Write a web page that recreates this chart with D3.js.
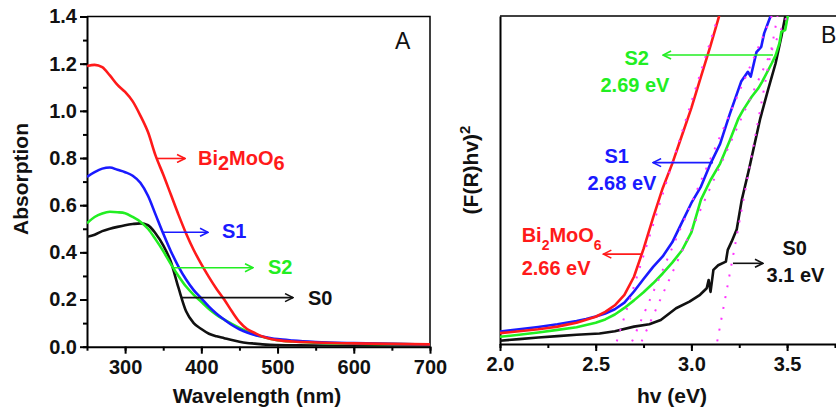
<!DOCTYPE html>
<html lang="en">
<head>
<meta charset="UTF-8">
<title>Absorption</title>
<style>
  body { margin: 0; background: #fff; }
  svg { display: block; font-family: "Liberation Sans", Arial, sans-serif; }
  .axis path, .axis line { stroke: #000; stroke-width: 2px; fill: none; }
  .axis text { font-size: 20px; font-weight: bold; fill: #111; }
  .frame { stroke: #000; stroke-width: 1.5px; fill: none; }
  .curve { fill: none; stroke-width: 2.6px; stroke-linejoin: round; }
  .tangent { fill: none; stroke: #ff33ff; stroke-width: 2px; stroke-dasharray: 2,9; }
  .title { font-size: 21px; font-weight: bold; fill: #111; }
  .note { font-size: 20px; font-weight: bold; }
</style>
</head>
<body>
<script src="https://d3js.org/d3.v7.min.js"></script>
<script>

// ---- panel A: absorption spectra ----
var wavelength = [250, 260, 270, 280, 290, 300, 310, 320, 330, 340, 350, 360, 370, 380, 390, 400,
                  410, 420, 430, 440, 450, 460, 470, 480, 490, 500, 520, 550, 600, 650, 700];
var absBi = [1.19, 1.195, 1.185, 1.15, 1.11, 1.08, 1.04, 0.98, 0.91, 0.81, 0.73, 0.645, 0.56, 0.48, 0.41, 0.35,
             0.295, 0.245, 0.2, 0.15, 0.105, 0.075, 0.058, 0.043, 0.034, 0.028, 0.022, 0.018, 0.014, 0.012, 0.01];
var absS1 = [0.72, 0.74, 0.755, 0.76, 0.75, 0.74, 0.725, 0.695, 0.64, 0.56, 0.48, 0.405, 0.34, 0.285, 0.24, 0.205,
             0.17, 0.14, 0.115, 0.092, 0.074, 0.06, 0.05, 0.043, 0.037, 0.032, 0.026, 0.02, 0.015, 0.012, 0.01];
var absS2 = [0.523, 0.55, 0.565, 0.572, 0.57, 0.566, 0.55, 0.53, 0.5, 0.455, 0.405, 0.35, 0.3, 0.255, 0.22, 0.19,
             0.16, 0.135, 0.115, 0.097, 0.08, 0.065, 0.052, 0.042, 0.034, 0.028, 0.022, 0.017, 0.013, 0.011, 0.01];
var absS0 = [0.466, 0.475, 0.49, 0.5, 0.508, 0.515, 0.52, 0.523, 0.515, 0.48, 0.43, 0.36, 0.25, 0.15, 0.1, 0.075,
             0.055, 0.044, 0.036, 0.028, 0.021, 0.016, 0.013, 0.01, 0.008, 0.007, 0.006, 0.005, 0.004, 0.004, 0.004];
var wlTicks = [300, 400, 500, 600, 700];
var absTicks = [0, 0.2, 0.4, 0.6, 0.8, 1.0, 1.2, 1.4];

// ---- panel B: Kubelka-Munk plots (arbitrary units, 0-100) ----
var evBi = [2.0, 2.05, 2.1, 2.15, 2.2, 2.25, 2.3, 2.35, 2.4, 2.45, 2.5, 2.55, 2.6, 2.65, 2.7, 2.75,
            2.8, 2.85, 2.9, 2.95, 3.0, 3.05, 3.1, 3.15];
var kmBi = [3.3, 3.6, 3.9, 4.2, 4.5, 4.9, 5.3, 5.9, 6.5, 7.4, 8.3, 9.8, 11.8, 15, 20.5, 29,
            38.5, 47.5, 55, 63.5, 72, 81.5, 91, 101];
var evS1 = [2.0, 2.1, 2.2, 2.3, 2.4, 2.45, 2.5, 2.55, 2.6, 2.65, 2.7, 2.75, 2.8, 2.85, 2.9, 2.95,
            3.0, 3.05, 3.1, 3.15, 3.2, 3.26, 3.295, 3.31, 3.34, 3.365, 3.38, 3.41, 3.43];
var kmS1 = [3.8, 4.5, 5.2, 6.0, 7.0, 7.6, 8.4, 9.3, 10.6, 12.6, 16, 19.8, 23.5, 26.7, 31, 37,
            43, 48, 55, 61, 70, 80, 83, 81.5, 89, 90.6, 94.7, 99.4, 102];
var evS2 = [2.0, 2.1, 2.2, 2.3, 2.4, 2.5, 2.55, 2.6, 2.65, 2.7, 2.75, 2.8, 2.85, 2.9, 2.95, 3.0,
            3.05, 3.1, 3.15, 3.2, 3.246, 3.27, 3.315, 3.35, 3.37, 3.42, 3.44, 3.46, 3.47, 3.49, 3.51];
var kmS2 = [2.2, 2.8, 3.5, 4.3, 5.1, 6.5, 7.5, 9.0, 11, 13.3, 15.8, 18.5, 21.5, 24.8, 28.5, 34,
            44, 50, 55, 62, 68.8, 71.3, 75.4, 78, 80, 85.6, 88, 91.7, 95.2, 95.7, 102];
var evS0 = [2.0, 2.1, 2.2, 2.3, 2.4, 2.52, 2.6, 2.7, 2.78, 2.84, 2.92, 2.99, 3.045, 3.08, 3.09, 3.1,
            3.115, 3.14, 3.18, 3.19, 3.21, 3.237, 3.263, 3.3, 3.36, 3.4, 3.44, 3.47, 3.49, 3.5];
var kmS0 = [1.0, 1.5, 2.0, 2.4, 2.8, 3.2, 3.9, 5.3, 6.0, 7.3, 10.9, 12.9, 15, 17, 19.5, 15.9,
            22.6, 24, 25.1, 28.7, 31.2, 35, 43.9, 53, 68.8, 77.4, 85.6, 93.7, 99.8, 102];
// tangent (onset) lines: energy at bottom and at top of the plot
var tangentBottom = [2.61, 2.69, 2.74, 3.135];
var tangentTop = [3.14, 3.42, 3.50, 3.45];
var evTicks = [2.0, 2.5, 3.0, 3.5];

var red = "#ff1a1a", blue = "#1a1aff", green = "#22ee22", black = "#111";

var svg = d3.select("body").append("svg")
    .attr("width", 836)
    .attr("height", 416);

// ================= panel A =================
var xA = d3.scaleLinear().domain([250, 700]).range([87, 430]);
var yA = d3.scaleLinear().domain([0, 1.4]).range([346.7, 16.5]);

svg.append("clipPath").attr("id", "clipA").append("rect")
    .attr("x", 87).attr("y", 16.5).attr("width", 343).attr("height", 330.2);

var gA = svg.append("g");

gA.append("path").attr("class", "frame")
    .attr("d", "M" + xA(250) + "," + yA(1.4) + "H" + xA(700) + "V" + yA(0));

gA.append("g").attr("class", "axis")
    .attr("transform", "translate(0," + yA(0) + ")")
    .call(d3.axisBottom(xA).tickValues(d3.range(250, 701, 50)).tickSize(4).tickFormat(""))
    .call(function(g) { g.select(".domain").remove(); });
gA.append("g").attr("class", "axis")
    .attr("transform", "translate(0," + yA(0) + ")")
    .call(d3.axisBottom(xA).tickValues(wlTicks).tickSize(7).tickPadding(6).tickSizeOuter(0).tickFormat(d3.format("d")));

gA.append("g").attr("class", "axis")
    .attr("transform", "translate(" + xA(250) + ",0)")
    .call(d3.axisLeft(yA).tickValues(d3.range(0, 1.41, 0.1)).tickSize(4).tickFormat(""))
    .call(function(g) { g.select(".domain").remove(); });
gA.append("g").attr("class", "axis")
    .attr("transform", "translate(" + xA(250) + ",0)")
    .call(d3.axisLeft(yA).tickValues(absTicks).tickSize(7).tickPadding(3).tickSizeOuter(0).tickFormat(d3.format(".1f")));

var lineA = d3.line()
    .x(function(d) { return xA(d[0]); })
    .y(function(d) { return yA(d[1]); })
    .curve(d3.curveMonotoneX);

var seriesA = [[absS0, black], [absS2, green], [absS1, blue], [absBi, red]];
seriesA.forEach(function(s) {
    gA.append("path").attr("class", "curve")
        .attr("clip-path", "url(#clipA)")
        .attr("stroke", s[1])
        .attr("d", lineA(d3.zip(wavelength, s[0])));
});

svg.append("defs").selectAll("marker")
    .data([["arrRed", red], ["arrBlue", blue], ["arrGreen", green], ["arrBlack", black]])
    .enter().append("marker")
    .attr("id", function(d) { return d[0]; })
    .attr("viewBox", "0 0 10 10").attr("refX", 9).attr("refY", 5)
    .attr("markerWidth", 10).attr("markerHeight", 10)
    .attr("markerUnits", "userSpaceOnUse")
    .attr("orient", "auto")
    .append("path").attr("d", "M1,1 L9,5 L1,9")
    .attr("fill", "none").attr("stroke", function(d) { return d[1]; }).attr("stroke-width", 1.6);

function arrow(g, x1, x2, y, color, id) {
    g.append("line").attr("x1", x1).attr("x2", x2).attr("y1", y).attr("y2", y)
        .attr("stroke", color).attr("stroke-width", 1.6)
        .attr("marker-end", "url(#" + id + ")");
}

// labels on panel A
arrow(gA, xA(342), xA(378.6), yA(0.798), red, "arrRed");
var tBi = gA.append("text").attr("class", "note").attr("fill", red)
    .attr("x", xA(395.6)).attr("y", yA(0.798) + 7);
tBi.append("tspan").text("Bi");
tBi.append("tspan").attr("dy", 5).text("2");
tBi.append("tspan").attr("dy", -5).text("MoO");
tBi.append("tspan").attr("dy", 5).text("6");

arrow(gA, xA(349.7), xA(408.8), yA(0.485), blue, "arrBlue");
gA.append("text").attr("class", "note").attr("fill", blue)
    .attr("x", xA(427)).attr("y", yA(0.485) + 6).text("S1");

arrow(gA, xA(362.8), xA(467.8), yA(0.335), green, "arrGreen");
gA.append("text").attr("class", "note").attr("fill", green)
    .attr("x", xA(487.5)).attr("y", yA(0.335) + 6).text("S2");

arrow(gA, xA(374.6), xA(520.3), yA(0.208), black, "arrBlack");
gA.append("text").attr("class", "note").attr("fill", black)
    .attr("x", xA(540)).attr("y", yA(0.208) + 7).text("S0");

gA.append("text").attr("x", 395).attr("y", 49)
    .attr("font-size", 23).attr("fill", "#111").text("A");

gA.append("text").attr("class", "title")
    .attr("transform", "translate(28,179) rotate(-90)")
    .attr("text-anchor", "middle").attr("font-size", 22).text("Absorption");
gA.append("text").attr("class", "title")
    .attr("x", 257).attr("y", 403).attr("text-anchor", "middle")
    .text("Wavelength (nm)");

// ================= panel B =================
var xB = d3.scaleLinear().domain([2.0, 4.0]).range([500, 882.8]);
var yB = d3.scaleLinear().domain([0, 100]).range([344, 16]);

svg.append("clipPath").attr("id", "clipB").append("rect")
    .attr("x", 500).attr("y", 16).attr("width", 383).attr("height", 328);

var gB = svg.append("g");

gB.append("path").attr("class", "frame")
    .attr("d", "M" + xB(2.0) + "," + yB(100) + "H" + xB(4.0));

gB.append("g").attr("class", "axis")
    .attr("transform", "translate(0," + yB(0) + ")")
    .call(d3.axisBottom(xB).tickValues(d3.range(2.0, 3.76, 0.25)).tickSize(4).tickFormat(""))
    .call(function(g) { g.select(".domain").remove(); });
gB.append("g").attr("class", "axis")
    .attr("transform", "translate(0," + yB(0) + ")")
    .call(d3.axisBottom(xB).tickValues(evTicks).tickSize(7).tickPadding(6).tickSizeOuter(0).tickFormat(d3.format(".1f")));

gB.append("g").attr("class", "axis")
    .attr("transform", "translate(" + xB(2.0) + ",0)")
    .call(d3.axisLeft(yB).tickValues([]).tickSizeOuter(0));

var lineB = d3.line()
    .x(function(d) { return xB(d[0]); })
    .y(function(d) { return yB(d[1]); });

var seriesB = [[evS0, kmS0, black], [evS2, kmS2, green], [evS1, kmS1, blue], [evBi, kmBi, red]];
seriesB.forEach(function(s) {
    gB.append("path").attr("class", "curve")
        .attr("clip-path", "url(#clipB)")
        .attr("stroke", s[2])
        .attr("d", lineB(d3.zip(s[0], s[1])));
});

tangentBottom.forEach(function(e, i) {
    gB.append("path").attr("class", "tangent")
        .attr("clip-path", "url(#clipB)")
        .attr("d", lineB([[e, 0.8], [tangentTop[i], 100]]));
});

// labels on panel B
arrow(gB, xB(3.426), xB(2.852), yB(88.1), green, "arrGreen");
gB.append("text").attr("class", "note").attr("fill", green).attr("text-anchor", "middle")
    .attr("x", xB(2.714)).attr("y", yB(85)).text("S2");
gB.append("text").attr("class", "note").attr("fill", green).attr("text-anchor", "middle")
    .attr("x", xB(2.705)).attr("y", yB(76.9)).text("2.69 eV");

arrow(gB, xB(3.113), xB(2.80), yB(55.3), blue, "arrBlue");
gB.append("text").attr("class", "note").attr("fill", blue).attr("text-anchor", "middle")
    .attr("x", xB(2.61)).attr("y", yB(55.2)).text("S1");
gB.append("text").attr("class", "note").attr("fill", blue).attr("text-anchor", "middle")
    .attr("x", xB(2.637)).attr("y", yB(47)).text("2.68 eV");

arrow(gB, xB(2.74), xB(2.54), yB(27.4), red, "arrRed");
var tBiB = gB.append("text").attr("class", "note").attr("fill", red)
    .attr("x", xB(2.113)).attr("y", yB(31.2));
tBiB.append("tspan").text("Bi");
tBiB.append("tspan").attr("dy", 8).attr("font-size", 14).text("2");
tBiB.append("tspan").attr("dy", -8).text("MoO");
tBiB.append("tspan").attr("dy", 8).attr("font-size", 14).text("6");
gB.append("text").attr("class", "note").attr("fill", red)
    .attr("x", xB(2.113)).attr("y", yB(21)).text("2.66 eV");

arrow(gB, xB(3.217), xB(3.374), yB(24.6), black, "arrBlack");
gB.append("text").attr("class", "note").attr("fill", black).attr("text-anchor", "middle")
    .attr("x", xB(3.54)).attr("y", yB(27.1)).text("S0");
gB.append("text").attr("class", "note").attr("fill", black)
    .attr("x", xB(3.393)).attr("y", yB(19)).text("3.1 eV");

gB.append("text").attr("x", 821).attr("y", 43)
    .attr("font-size", 23).attr("fill", "#111").text("B");

var yTitle = gB.append("text").attr("class", "title")
    .attr("transform", "translate(478,170) rotate(-90)")
    .attr("text-anchor", "middle");
yTitle.append("tspan").text("(F(R)hv)");
yTitle.append("tspan").attr("dy", -8).attr("font-size", 15).text("2");
gB.append("text").attr("class", "title")
    .attr("x", 672).attr("y", 403).attr("text-anchor", "middle")
    .text("hv (eV)");

</script>
</body>
</html>
